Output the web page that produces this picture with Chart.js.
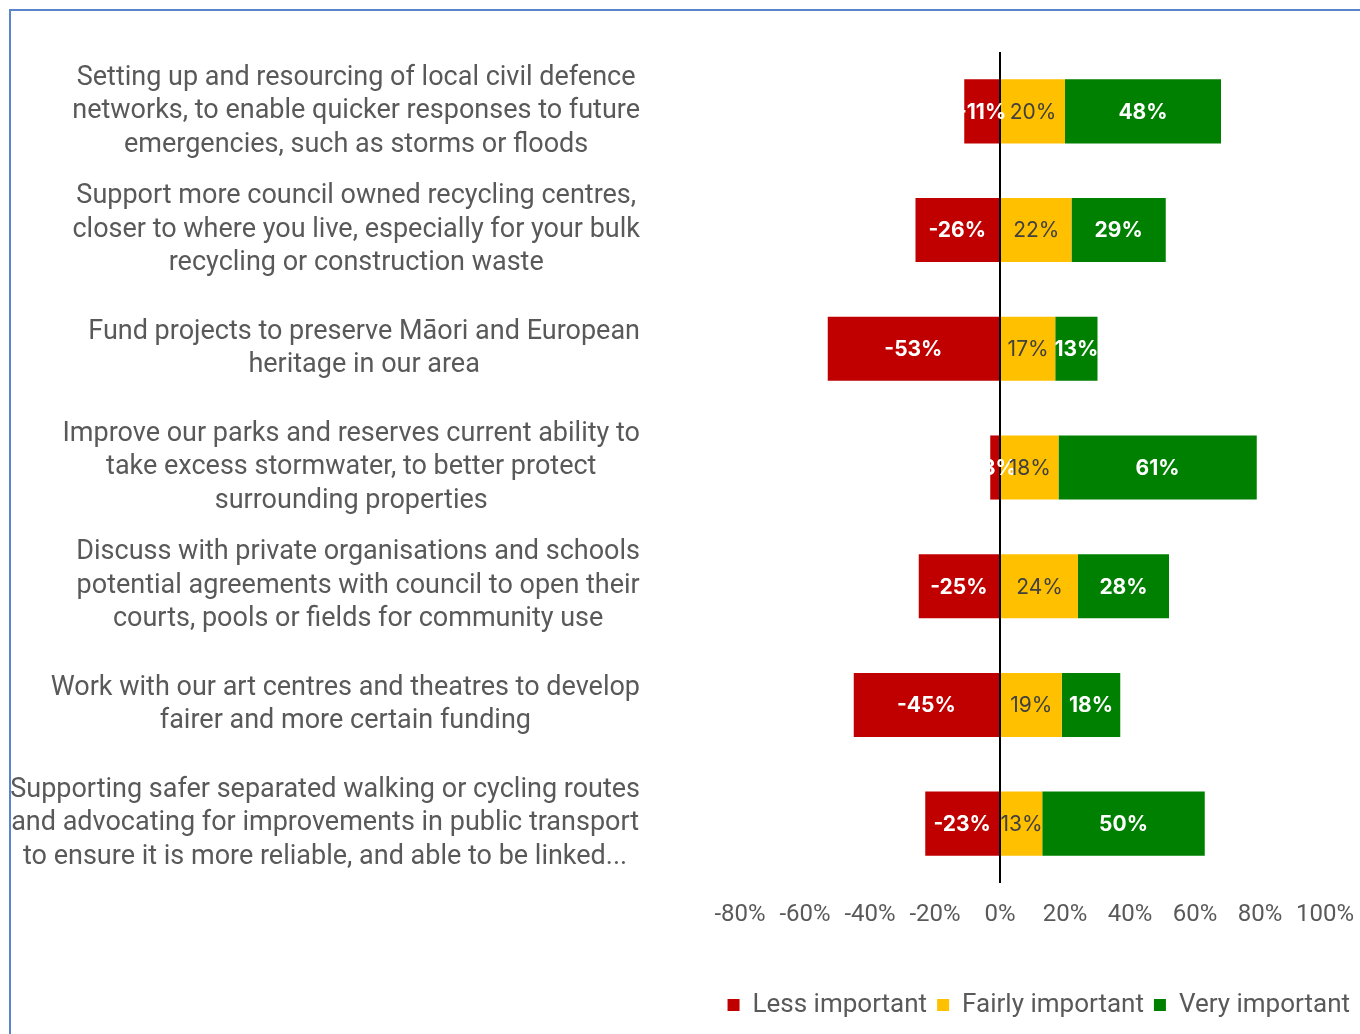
<!DOCTYPE html>
<html>
<head>
    <title>Importance of council initiatives</title>
    <script src="https://cdn.jsdelivr.net/npm/chart.js"></script>
    <style>
        body {
            margin: 0;
            background: #ffffff;
            overflow: hidden;
        }

        .frame {
            position: absolute;
            left: 9px;
            top: 9px;
            width: 1400px;
            height: 1100px;
            border-left: 2px solid #5a84cc;
            border-top: 2px solid #5a84cc;
        }

        #importanceChart {
            position: absolute;
            left: 0;
            top: 0;
        }
    </style>
</head>
<body>
    <div class="frame"></div>
    <canvas id="importanceChart" width="1360" height="1034"></canvas>

    <script>
        const categories = [
            ['Setting up and resourcing of local civil defence', 'networks, to enable quicker responses to future', 'emergencies, such as storms or floods'],
            ['Support more council owned recycling centres,', 'closer to where you live, especially for your bulk', 'recycling or construction waste'],
            ['Fund projects to preserve Māori and European', 'heritage in our area'],
            ['Improve our parks and reserves current ability to', 'take excess stormwater, to better protect', 'surrounding properties'],
            ['Discuss with private organisations and schools', 'potential agreements with council to open their', 'courts, pools or fields for community use'],
            ['Work with our art centres and theatres to develop', 'fairer and more certain funding'],
            ['Supporting safer separated walking or cycling routes', 'and advocating for improvements in public transport', 'to ensure it is more reliable, and able to be linked...']
        ];

        const lessImportant = [-11, -26, -53, -3, -25, -45, -23];
        const fairlyImportant = [20, 22, 17, 18, 24, 19, 13];
        const veryImportant = [48, 29, 13, 61, 28, 18, 50];

        const xTicks = [-80, -60, -40, -20, 0, 20, 40, 60, 80, 100];

        const textGrey = '#595959';

        // values written inside the bars
        const barLabels = {
            id: 'barLabels',
            afterDatasetsDraw(chart) {
                const ctx = chart.ctx;
                ctx.save();
                ctx.textAlign = 'center';
                ctx.textBaseline = 'middle';
                chart.data.datasets.forEach((ds, i) => {
                    const meta = chart.getDatasetMeta(i);
                    ctx.font = ds.labelBold ? 'bold 21px Inter' : '21px Inter';
                    ctx.fillStyle = ds.labelColor;
                    meta.data.forEach((bar, j) => {
                        const p = bar.getProps(['x', 'base', 'y'], true);
                        ctx.fillText(ds.data[j] + '%', (p.x + p.base) / 2, p.y + 1);
                    });
                });
                ctx.restore();
            }
        };

        // category text: block right aligned, lines centred inside the block
        const categoryText = {
            id: 'categoryText',
            afterDraw(chart) {
                const ctx = chart.ctx;
                const yScale = chart.scales.y;
                const lineHeight = 33.5;
                const rightEdge = 640;
                ctx.save();
                ctx.font = '27px Roboto';
                ctx.fillStyle = textGrey;
                ctx.textAlign = 'center';
                ctx.textBaseline = 'middle';
                categories.forEach((lines, i) => {
                    const yc = yScale.getPixelForTick(i);
                    const w = Math.max(...lines.map(l => ctx.measureText(l).width));
                    const xc = rightEdge - w / 2;
                    lines.forEach((line, k) => {
                        ctx.fillText(line, xc, yc + (k - (lines.length - 1) / 2) * lineHeight);
                    });
                });
                ctx.restore();
            }
        };

        const ctx = document.getElementById('importanceChart').getContext('2d');

        new Chart(ctx, {
            type: 'bar',
            data: {
                labels: categories,
                datasets: [
                    {
                        label: 'Less important',
                        data: lessImportant,
                        backgroundColor: '#c00000',
                        labelColor: '#ffffff',
                        labelBold: true
                    },
                    {
                        label: 'Fairly important',
                        data: fairlyImportant,
                        backgroundColor: '#ffc000',
                        labelColor: '#404040',
                        labelBold: false
                    },
                    {
                        label: 'Very important',
                        data: veryImportant,
                        backgroundColor: '#008000',
                        labelColor: '#ffffff',
                        labelBold: true
                    }
                ]
            },
            options: {
                indexAxis: 'y',
                responsive: false,
                animation: false,
                datasets: {
                    bar: {
                        barPercentage: 0.54,
                        categoryPercentage: 1
                    }
                },
                layout: {
                    padding: { left: 0, top: 52, right: 0, bottom: 6 }
                },
                plugins: {
                    legend: {
                        position: 'bottom',
                        align: 'end',
                        labels: {
                            color: textGrey,
                            boxWidth: 12,
                            boxHeight: 12,
                            padding: 10,
                            font: { family: 'Roboto', size: 26 }
                        }
                    },
                    tooltip: { enabled: false }
                },
                scales: {
                    x: {
                        stacked: true,
                        min: -80,
                        max: 100,
                        afterBuildTicks: (scale) => {
                            scale.ticks = xTicks.map(v => ({ value: v }));
                        },
                        afterFit: (scale) => {
                            scale.height = 99;
                            scale.paddingRight = 35;
                        },
                        ticks: {
                            color: textGrey,
                            padding: 18,
                            maxRotation: 0,
                            font: { family: 'Roboto', size: 24 },
                            callback: (v) => v + '%'
                        },
                        grid: {
                            drawTicks: false,
                            lineWidth: 2,
                            color: (c) => (c.tick && c.tick.value === 0 ? '#000000' : 'rgba(0,0,0,0)')
                        },
                        border: { display: false }
                    },
                    y: {
                        stacked: true,
                        afterFit: (scale) => {
                            scale.width = 740;
                        },
                        ticks: { display: false },
                        grid: { display: false },
                        border: { display: false }
                    }
                }
            },
            plugins: [barLabels, categoryText]
        });
    </script>
</body>
</html>
